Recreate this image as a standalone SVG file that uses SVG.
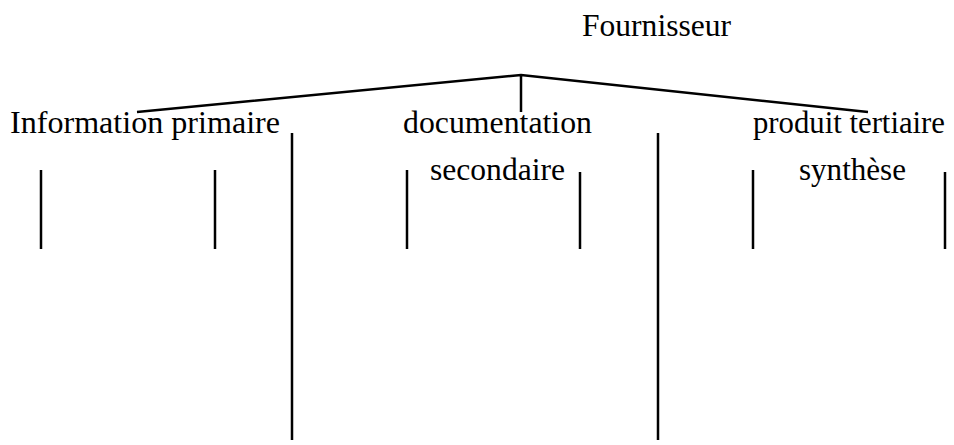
<svg xmlns="http://www.w3.org/2000/svg" width="954" height="445" viewBox="0 0 954 445">
<style>
text{font-family:"Liberation Serif","Times New Roman",serif;font-size:31px;fill:#000}
line,polyline{stroke:#000;stroke-width:2.5;fill:none}
</style>
<rect width="954" height="445" fill="#fff"/>
<g id="fournisseur"><text x="582" y="36" textLength="149" lengthAdjust="spacingAndGlyphs">Fournisseur</text></g>
<g id="information-primaire"><text x="10" y="133" textLength="270" lengthAdjust="spacingAndGlyphs">Information primaire</text></g>
<g id="documentation-secondaire"><text x="403" y="133" textLength="189" lengthAdjust="spacingAndGlyphs">documentation</text><text x="430" y="180" textLength="135" lengthAdjust="spacingAndGlyphs">secondaire</text></g>
<g id="produit-tertiaire"><text x="753" y="133" textLength="192" lengthAdjust="spacingAndGlyphs">produit tertiaire</text><text x="799" y="180" textLength="107" lengthAdjust="spacingAndGlyphs">synthèse</text></g>
<g id="connectors">
<polyline points="137,112 521,75 868,112"/>
<line x1="521" y1="75" x2="521" y2="112"/>
<line x1="41" y1="170" x2="41" y2="249"/>
<line x1="215" y1="170" x2="215" y2="249"/>
<line x1="407" y1="170" x2="407" y2="249"/>
<line x1="580" y1="172" x2="580" y2="249"/>
<line x1="753" y1="170" x2="753" y2="249"/>
<line x1="945" y1="172" x2="945" y2="249"/>
<line x1="292" y1="133" x2="292" y2="440"/>
<line x1="658" y1="133" x2="658" y2="440"/>
</g>
</svg>
